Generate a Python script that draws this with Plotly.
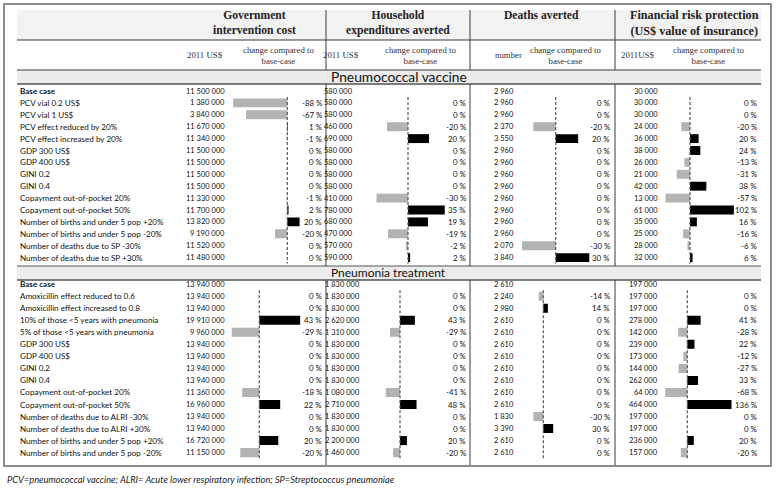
import plotly.graph_objects as go

# ---------------- DATA ----------------
labels_pcv = ["Base case", "PCV vial 0.2 US$", "PCV vial 1 US$", "PCV effect reduced by 20%",
              "PCV effect increased by 20%", "GDP 300 US$", "GDP 400 US$", "GINI 0.2", "GINI 0.4",
              "Copayment out-of-pocket 20%", "Copayment out-of-pocket 50%",
              "Number of births and under 5 pop +20%", "Number of births and under 5 pop -20%",
              "Number of deaths due to SP -30%", "Number of deaths due to SP +30%"]
gov_pcv = [11500000, 1380000, 3840000, 11670000, 11340000, 11500000, 11500000, 11500000, 11500000,
           11330000, 11700000, 13820000, 9190000, 11520000, 11480000]
gov_pcv_pct = [None, -88, -67, 1, -1, 0, 0, 0, 0, -1, 2, 20, -20, 0, 0]
hh_pcv = [580000, 580000, 580000, 460000, 690000, 580000, 580000, 580000, 580000, 410000, 780000,
          680000, 470000, 570000, 590000]
hh_pcv_pct = [None, 0, 0, -20, 20, 0, 0, 0, 0, -30, 35, 19, -19, -2, 2]
deaths_pcv = [2960, 2960, 2960, 2370, 3550, 2960, 2960, 2960, 2960, 2960, 2960, 2960, 2960, 2070, 3840]
deaths_pcv_pct = [None, 0, 0, -20, 20, 0, 0, 0, 0, 0, 0, 0, 0, -30, 30]
frp_pcv = [30000, 30000, 30000, 24000, 36000, 38000, 26000, 21000, 42000, 13000, 61000, 35000, 25000,
           28000, 32000]
frp_pcv_pct = [None, 0, 0, -20, 20, 24, -13, -31, 38, -57, 102, 16, -16, -6, 6]

labels_pt = ["Base case", "Amoxicillin effect reduced to 0.6", "Amoxicillin effect increased to 0.8",
             "10% of those <5 years with pneumonia", "5% of those <5 years with pneumonia",
             "GDP 300 US$", "GDP 400 US$", "GINI 0.2", "GINI 0.4",
             "Copayment out-of-pocket 20%", "Copayment out-of-pocket 50%",
             "Number of deaths due to ALRI -30%", "Number of deaths due to ALRI +30%",
             "Number of births and under 5 pop +20%", "Number of births and under 5 pop -20%"]
gov_pt = [13940000, 13940000, 13940000, 19910000, 9960000, 13940000, 13940000, 13940000, 13940000,
          11360000, 16960000, 13940000, 13940000, 16720000, 11150000]
gov_pt_pct = [None, 0, 0, 43, -29, 0, 0, 0, 0, -18, 22, 0, 0, 20, -20]
hh_pt = [1830000, 1830000, 1830000, 2620000, 1310000, 1830000, 1830000, 1830000, 1830000, 1080000,
         2710000, 1830000, 1830000, 2200000, 1460000]
hh_pt_pct = [None, 0, 0, 43, -29, 0, 0, 0, 0, -41, 48, 0, 0, 20, -20]
deaths_pt = [2610, 2240, 2980, 2610, 2610, 2610, 2610, 2610, 2610, 2610, 2610, 1830, 3390, 2610, 2610]
deaths_pt_pct = [None, -14, 14, 0, 0, 0, 0, 0, 0, 0, 0, -30, 30, 0, 0]
frp_pt = [197000, 197000, 197000, 278000, 142000, 239000, 173000, 144000, 262000, 64000, 464000,
          197000, 197000, 236000, 157000]
frp_pt_pct = [None, 0, 0, 41, -28, 22, -12, -27, 33, -68, 136, 0, 0, 20, -20]

section_titles = ["Pneumococcal vaccine", "Pneumonia treatment"]
metric_titles = ["Government<br>intervention cost", "Household<br>expenditures averted",
                 "Deaths averted", "Financial risk protection<br>(US$ value of insurance)"]
unit_labels = ["2011 US$", "2011 US$", "number", "2011US$"]
change_label = "change compared to<br>base-case"
footnote = "PCV=pneumococcal vaccine; ALRI= Acute lower respiratory infection; SP=Streptococcus pneumoniae"

# ---------------- LAYOUT GEOMETRY (pixels) ----------------
W, H = 776, 491
def px(x): return x / W
def py(y): return 1 - y / H

sections = [
    dict(labels=labels_pcv, vals=[gov_pcv, hh_pcv, deaths_pcv, frp_pcv],
         pcts=[gov_pcv_pct, hh_pcv_pct, deaths_pcv_pct, frp_pcv_pct],
         row0=91.0, step=11.9, zeros=[287.3, 408.0, 555.7, 690.0], scales=[0.615, 1.05, 1.12, 0.43],
         val_right=[226.5, 355, 516, 660], title_y=77, title_size=13.8),
    dict(labels=labels_pt, vals=[gov_pt, hh_pt, deaths_pt, frp_pt],
         pcts=[gov_pt_pct, hh_pt_pct, deaths_pt_pct, frp_pt_pct],
         row0=284.2, step=12.03, zeros=[259.3, 400.0, 543.3, 687.3], scales=[0.95, 0.345, 0.33, 0.325],
         val_right=[226.5, 362, 516, 660], title_y=272.3, title_size=12.0),
]
pct_right = [324, 468, 612, 759]

BODY = "Lato, 'Open Sans', sans-serif"
SERIF = "'Liberation Serif', 'Times New Roman', serif"
TXT = "#111111"
FS = 8.1      # row labels
FN = 7.5      # numbers
FP = 7.9      # percentages

fig = go.Figure()
layout = dict(width=W, height=H, margin=dict(l=0, r=0, t=0, b=0), autosize=False,
              paper_bgcolor="white", plot_bgcolor="rgba(0,0,0,0)", barmode="overlay",
              showlegend=False)
shapes = []
annotations = []

def fmt(v):
    return f"{v:,}".replace(",", " ")

for k, sec in enumerate(sections):
    yname = "y" if k == 0 else "y2"
    ykey = "yaxis" if k == 0 else "yaxis2"
    r0, st = sec["row0"], sec["step"]
    layout[ykey] = dict(domain=[0, 1], range=[(H - r0) / st, -r0 / st], visible=False,
                        fixedrange=True)
    n_rows = len(sec["labels"])
    rows = list(range(n_rows))
    for r, lab in zip(rows, sec["labels"]):
        t = f"<b>{lab}</b>" if r == 0 else lab
        annotations.append(dict(x=px(18), y=r, xref="paper", yref=yname, text=t, showarrow=False,
                                xanchor="left", yanchor="middle",
                                font=dict(family=BODY, size=FS, color=TXT)))
    for m in range(4):
        n = k * 4 + m + 1
        xname = "x" if n == 1 else f"x{n}"
        xkey = "xaxis" if n == 1 else f"xaxis{n}"
        z, s = sec["zeros"][m], sec["scales"][m]
        half = 70
        layout[xkey] = dict(domain=[px(z - half), px(z + half)], range=[-half / s, half / s],
                            anchor=yname, visible=False, fixedrange=True)
        pcts = sec["pcts"][m]
        bar_rows = [r for r in rows if pcts[r] is not None]
        bar_vals = [pcts[r] for r in bar_rows]
        colors = ["#000000" if v > 0 else "#b3b3b3" for v in bar_vals]
        fig.add_trace(go.Bar(x=bar_vals, y=bar_rows, orientation="h", xaxis=xname, yaxis=yname,
                             width=0.75, marker=dict(color=colors, line=dict(width=0)),
                             hoverinfo="skip", showlegend=False))
        shapes.append(dict(type="line", xref=xname, yref=yname, x0=0, x1=0,
                           y0=bar_rows[0] - 0.5, y1=bar_rows[-1] + 0.5,
                           line=dict(color="#555555", width=1.2, dash="3px,2px"), layer="above"))
        for r in rows:
            annotations.append(dict(x=px(sec["val_right"][m]), y=r, xref="paper", yref=yname,
                                    text=fmt(sec["vals"][m][r]), showarrow=False,
                                    xanchor="right", yanchor="middle",
                                    font=dict(family=BODY, size=FN, color=TXT)))
            if pcts[r] is not None:
                annotations.append(dict(x=px(pct_right[m]), y=r, xref="paper", yref=yname,
                                        text=f"{pcts[r]} %", showarrow=False,
                                        xanchor="right", yanchor="middle",
                                        font=dict(family=BODY, size=FP, color=TXT)))
    annotations.append(dict(x=px(329), y=py(sec["title_y"]), xref="paper", yref="paper",
                            text=section_titles[k], showarrow=False, xanchor="left", yanchor="middle",
                            font=dict(family=BODY, size=sec["title_size"], color="#111111")))

# ---------------- table frame ----------------
def rect(x0, y0, x1, y1, fill=None):
    d = dict(type="rect", xref="paper", yref="paper", x0=px(x0), x1=px(x1), y0=py(y0), y1=py(y1),
             layer="below", line=dict(width=0, color="rgba(0,0,0,0)"))
    if fill:
        d["fillcolor"] = fill
    return d

def hline(y, x0=17, x1=761, color="#3a3a3a", w=1):
    return dict(type="line", xref="paper", yref="paper", x0=px(x0), x1=px(x1), y0=py(y), y1=py(y),
                line=dict(color=color, width=w))

def vline(x, y0, y1, color="#3a3a3a", w=1):
    return dict(type="line", xref="paper", yref="paper", x0=px(x), x1=px(x), y0=py(y0), y1=py(y1),
                line=dict(color=color, width=w))

shapes.insert(0, rect(17, 10, 761, 40, fill="#f2f2f2"))
shapes.insert(0, rect(17, 70, 761, 84, fill="#ececec"))
shapes.insert(0, rect(17, 266, 761, 280, fill="#ececec"))
shapes += [hline(40), hline(70), hline(84, color="#555555", w=1.5),
           hline(266, color="#555555", w=1), hline(280, color="#555555", w=1.5)]
for xv in [326, 470, 615]:
    shapes += [vline(xv, 10, 70), vline(xv, 84, 266), vline(xv, 280, 465)]
shapes.append(dict(type="rect", xref="paper", yref="paper", x0=px(4), x1=px(771), y0=py(4), y1=py(466),
                   line=dict(color="#8c8c8c", width=2)))

# headers
title_x = [254, 398, 541, 694]
title_y = [23, 23, 16, 23]
title_size = [11.6, 11.6, 11.6, 12.2]
for m in range(4):
    annotations.append(dict(x=px(title_x[m]), y=py(title_y[m]), xref="paper", yref="paper",
                            text=f"<b>{metric_titles[m]}</b>", showarrow=False, xanchor="center",
                            yanchor="middle", font=dict(family=SERIF, size=title_size[m], color="#222222")))
unit_x = [205, 341, 508, 637.5]
change_x = [278, 420, 565, 708]
for m in range(4):
    annotations.append(dict(x=px(unit_x[m]), y=py(55), xref="paper", yref="paper", text=unit_labels[m],
                            showarrow=False, xanchor="center", yanchor="middle",
                            font=dict(family=SERIF, size=8.8, color="#333333")))
    annotations.append(dict(x=px(change_x[m]), y=py(55), xref="paper", yref="paper", text=change_label,
                            showarrow=False, xanchor="center", yanchor="middle",
                            font=dict(family=SERIF, size=8.8, color="#333333")))
annotations.append(dict(x=px(5), y=py(479), xref="paper", yref="paper", text=f"<i>{footnote}</i>",
                        showarrow=False, xanchor="left", yanchor="middle",
                        font=dict(family=BODY, size=9.3, color="#222222")))

layout["shapes"] = shapes
layout["annotations"] = annotations
fig.update_layout(**layout)
fig.write_html("out.html", config={"displayModeBar": False, "staticPlot": True},
               post_script="document.body.style.margin='0px';document.body.style.padding='0px';"
                           "document.body.style.overflow='hidden';")
